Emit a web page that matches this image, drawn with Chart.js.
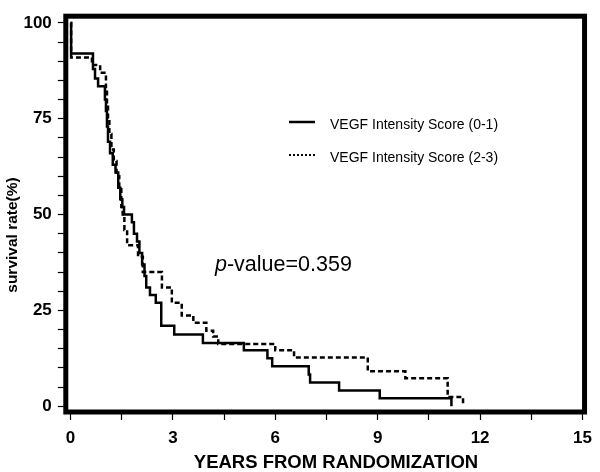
<!DOCTYPE html>
<html><head><meta charset="utf-8">
<script src="https://cdn.jsdelivr.net/npm/chart.js@4.4.0/dist/chart.umd.min.js"></script>
<style>html,body{margin:0;padding:0;background:#fff;overflow:hidden}</style>
</head><body>
<canvas id="c" width="600" height="472" style="width:600px;height:472px;display:block"></canvas>
<script>
// ---- data ----
const seriesLabels = ['VEGF Intensity Score (0-1)', 'VEGF Intensity Score (2-3)'];
const timesLow = [0, 0.02, 0.66, 0.72, 0.81, 1.01, 1.04, 1.07, 1.10, 1.16, 1.24, 1.32, 1.40, 1.46, 1.52, 1.57, 1.80, 1.86, 1.95, 2.02, 2.10, 2.17, 2.22, 2.33, 2.50, 2.66, 3.04, 3.88, 5.08, 5.77, 5.91, 6.98, 7.02, 7.87, 9.06, 11.16];
const survLow  = [100, 92, 88, 85.5, 83.5, 80, 77, 73, 69, 66, 63, 61, 57, 54, 52, 50, 48, 45, 43, 40, 37, 34, 31, 29, 27, 21, 18.7, 16.5, 14.6, 12.5, 10.4, 8.3, 6.2, 4.1, 2.1, 0];
const timesHigh = [0, 0.02, 0.63, 0.87, 1.04, 1.07, 1.10, 1.14, 1.20, 1.27, 1.35, 1.43, 1.49, 1.53, 1.58, 1.66, 1.98, 2.12, 2.68, 2.97, 3.26, 3.60, 3.98, 4.18, 4.33, 6.00, 6.55, 8.71, 9.81, 11.05, 11.50];
const survHigh  = [100, 91, 89, 87, 83, 79, 75, 71, 67, 64, 60, 57, 52, 50, 46, 42, 39, 35, 31, 27, 23.7, 21.8, 19.7, 18.2, 16.2, 14.6, 12.7, 9.1, 7.3, 2.4, 0];
const xTickLabels = [0, 3, 6, 9, 12, 15];
const xMinorTicks = [1.5, 4.5, 7.5, 10.5, 13.5];
const yTickLabels = [0, 25, 50, 75, 100];
const yMinorTicks = [5, 10, 15, 20, 30, 35, 40, 45, 55, 60, 65, 70, 80, 85, 90, 95];
const xTitle = 'YEARS FROM RANDOMIZATION';
const yTitle = 'survival rate(%)';
const pLabel = 'p';
const pValueText = '-value=0.359';

const FONT = '"Liberation Sans", Arial, Helvetica, sans-serif';
const toPts = (ts, ss) => ts.map((t, i) => ({x: t, y: ss[i]}));

const decor = {
  id: 'decor',
  afterDraw(chart) {
    const ctx = chart.ctx, a = chart.chartArea;
    ctx.save();
    // frame
    ctx.strokeStyle = '#000';
    ctx.lineWidth = 5;
    ctx.strokeRect(a.left, a.top, a.right - a.left, a.bottom - a.top);
    ctx.fillStyle = '#000';
    // x title
    ctx.font = 'bold 18.5px ' + FONT;
    ctx.textAlign = 'center';
    ctx.textBaseline = 'alphabetic';
    ctx.fillText(xTitle, 336, 468);
    // y title
    ctx.save();
    ctx.translate(13, 235);
    ctx.rotate(-Math.PI / 2);
    ctx.font = 'bold 15.5px ' + FONT;
    ctx.textBaseline = 'middle';
    ctx.fillText(yTitle, 0, 0);
    ctx.restore();
    // legend
    ctx.lineWidth = 2.5;
    ctx.setLineDash([]);
    ctx.beginPath(); ctx.moveTo(289, 122); ctx.lineTo(315, 122); ctx.stroke();
    ctx.lineWidth = 2;
    ctx.setLineDash([2, 2]);
    ctx.beginPath(); ctx.moveTo(289, 155); ctx.lineTo(316, 155); ctx.stroke();
    ctx.setLineDash([]);
    ctx.font = '14px ' + FONT;
    ctx.textAlign = 'left';
    ctx.fillText(seriesLabels[0], 330, 129);
    ctx.fillText(seriesLabels[1], 330, 162);
    // p-value
    ctx.font = 'italic 21.5px ' + FONT;
    ctx.fillText(pLabel, 215, 271);
    const pw = ctx.measureText(pLabel).width;
    ctx.font = '21.5px ' + FONT;
    ctx.fillText(pValueText, 215 + pw, 271);
    ctx.restore();
  }
};

const tickFont = {family: FONT, size: 17, weight: 'bold'};

new Chart(document.getElementById('c'), {
  type: 'line',
  data: {
    datasets: [
      {label: seriesLabels[0], data: toPts(timesLow, survLow), stepped: true, borderColor: '#000', borderWidth: 2.5, pointRadius: 0, fill: false},
      {label: seriesLabels[1], data: toPts(timesHigh, survHigh), stepped: true, borderColor: '#000', borderWidth: 2.5, borderDash: [5, 3], pointRadius: 0, fill: false}
    ]
  },
  options: {
    responsive: false,
    animation: false,
    devicePixelRatio: 1,
    layout: {padding: {top: 2, right: 8.5, left: 0, bottom: 0}},
    plugins: {legend: {display: false}, tooltip: {enabled: false}},
    scales: {
      x: {
        type: 'linear', min: -0.136, max: 15.06,
        afterBuildTicks: s => { s.ticks = [...xTickLabels, ...xMinorTicks].sort((p, q) => p - q).map(v => ({value: v})); },
        afterFit: s => { s.height = 60; },
        ticks: {autoSkip: false, maxRotation: 0, color: '#000', font: tickFont, padding: 8,
          callback: v => xTickLabels.includes(v) ? String(v) : ''},
        grid: {drawOnChartArea: false, drawTicks: true, tickLength: 8, tickColor: '#000', tickWidth: 1.2},
        border: {display: false}
      },
      y: {
        type: 'linear', min: -1.51, max: 101.76,
        afterBuildTicks: s => { s.ticks = [...yTickLabels, ...yMinorTicks].sort((p, q) => p - q).map(v => ({value: v})); },
        afterFit: s => { s.width = 65.8; },
        ticks: {autoSkip: false, color: '#000', font: tickFont, padding: 6,
          callback: v => yTickLabels.includes(v) ? String(v) : ''},
        grid: {drawOnChartArea: false, drawTicks: true, tickLength: 8, tickColor: '#000', tickWidth: 1.2},
        border: {display: false}
      }
    }
  },
  plugins: [decor]
});
</script>
</body></html>
